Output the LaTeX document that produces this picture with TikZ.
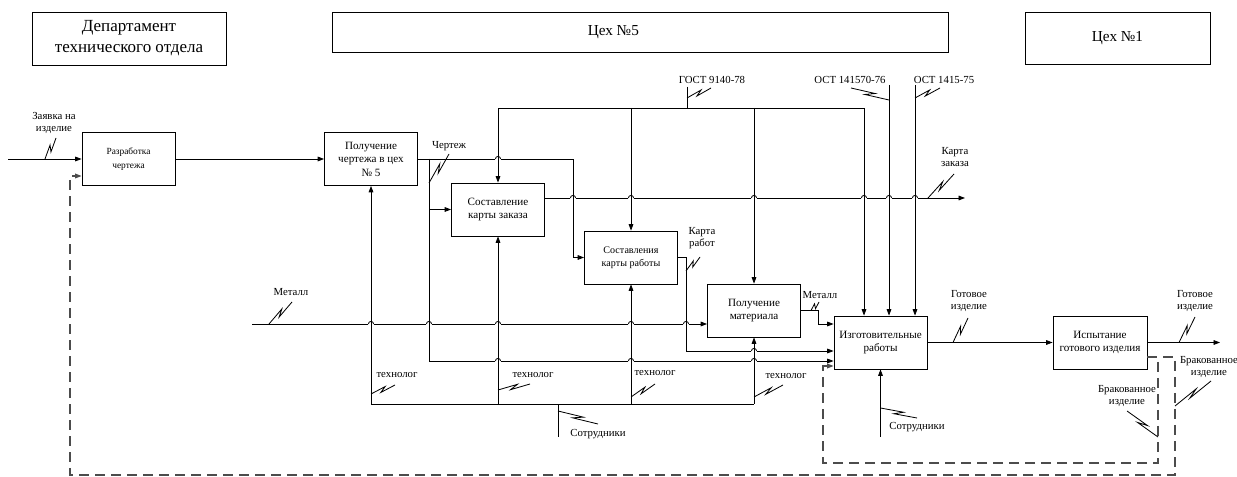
\documentclass[tikz,border=0pt]{standalone}
\usepackage{fontspec}
\setmainfont{Liberation Serif}
\usetikzlibrary{arrows.meta,calc}

\newcommand{\idefsquig}[2]{\draw[ln] (#1) -- ($(#1)!0.62!(#2)!0.6mm!90:(#2)$) -- ($(#1)!0.38!(#2)!0.6mm!-90:(#2)$) -- (#2);}
\newcommand{\linehop}[2]{%
  \draw[white, line width=1.6pt] (#1-2.6,#2) -- (#1+2.6,#2);
  \draw[ln] (#1,#2-3.5) -- (#1,#2+3.5);
  \draw[ln] (#1-2.6,#2) arc[start angle=180, end angle=0, radius=0.78mm];}

\begin{document}
\begin{tikzpicture}[x=0.3mm, y=-0.3mm,
  ln/.style={line width=0.7pt},
  arr/.style={ln, -{Triangle[length=5.5pt,width=4pt]}},
  fb/.style={arr, line width=0.9pt, black!70, dash pattern=on 3mm off 1.8mm},
  box/.style={rectangle, draw, line width=0.7pt, minimum width=27.9mm,
              minimum height=15.9mm, align=center, inner sep=1pt,
              font=\fontsize{9.5}{11.5}\selectfont},
  title/.style={rectangle, draw, line width=0.7pt, align=center,
                font=\fontsize{14.5}{18}\selectfont},
  lbl/.style={align=center, inner sep=0pt, font=\fontsize{9.2}{10.5}\selectfont},
]
\useasboundingbox (0,0) rectangle (1237,477);

% departments
\node[title, minimum width=58.2mm, minimum height=15.9mm] (dept) at (129,38.5) {Департамент\\технического отдела};
\node[title, minimum width=184.8mm, minimum height=12mm, font=\fontsize{13}{16}\selectfont] (shop5) at (640,32) {\hspace*{-16mm}Цех №5};
\node[title, minimum width=55.5mm, minimum height=15.6mm, font=\fontsize{13}{16}\selectfont] (shop1) at (1117.5,38) {Цех №1};

% activities
\node[box, font=\fontsize{8}{11.5}\selectfont] (dev) at (128.5,159) {Разработка\\чертежа};
\node[box] (recv) at (371,159) {Получение\\чертежа в цех\\№ 5};
\node[box] (ord) at (498,209.5) {Составление\\карты заказа};
\node[box, font=\fontsize{8.6}{11.5}\selectfont] (work) at (631,257.5) {Составления\\карты работы};
\node[box] (mat) at (754,310.5) {Получение\\материала};
\node[box] (make) at (880.5,342.5) {Изготовительные\\работы};
\node[box, minimum width=28.2mm] (test) at (1100,342.5) {Испытание\\готового изделия};

\coordinate (inZ) at (8,159);
\coordinate (inM) at (252,324);
\coordinate (gost) at (687,87);
\coordinate (ost1) at (889,85);
\coordinate (ost2) at (915,85);
\coordinate (outOrd) at (965,198);
\coordinate (outG) at (1220,342.5);
\coordinate (sot1) at (558,437);
\coordinate (sot2) at (880.5,437);
\coordinate (rej) at (1147,357);

% arrows
\draw[arr] (inZ) -- (dev);
\draw[arr] (dev) -- (recv);
\draw[arr] (recv) -- (573,159) |- (work);
\draw[arr] (429,159) |- (ord);
\draw[arr] (429,159) |- (make.west |- 0,361);
\draw[arr] (gost) |- (ord.north |- 0,108) -- (ord);
\draw[arr] (gost) |- (864,108) -- (make.north -| 864,0);
\draw[arr] (work.north |- 0,108) -- (work);
\draw[arr] (mat.north |- 0,108) -- (mat);
\draw[arr] (ost1) -- (make.north -| ost1);
\draw[arr] (ost2) -- (make.north -| ost2);
\draw[arr] (ord.east |- outOrd) -- (outOrd);
\draw[arr] (work) -- (686,257.5) |- (make.west |- 0,351);
\draw[arr] (inM) -- (inM -| mat.west);
\draw[arr] (mat) -- (818,310.5) |- (make.west |- 0,324);
\draw[ln] (recv.south |- 0,404) -- (mat.south |- 0,404);
\draw[arr] (recv.south |- 0,404) -- (recv);
\draw[arr] (ord.south |- 0,404) -- (ord);
\draw[arr] (work.south |- 0,404) -- (work);
\draw[arr] (mat.south |- 0,404) -- (mat);
\draw[ln] (sot1) -- (sot1 |- 0,404);
\draw[arr] (sot2) -- (sot2 |- make.south);
\draw[arr] (make) -- (test);
\draw[arr] (test) -- (outG);
\draw[fb] (rej) -- (1158,357) -- (1158,463) -- (823,463) |- (make.west |- 0,366);
\draw[fb] (rej) -- (1175,357) -- (1175,475) -- (70,475) |- (dev.west |- 0,176);

% line jumps
\linehop{498}{159}
\linehop{573}{198} \linehop{631}{198} \linehop{754}{198}
\linehop{864}{198} \linehop{889}{198} \linehop{915}{198}
\linehop{371}{324} \linehop{429}{324} \linehop{498}{324}
\linehop{631}{324} \linehop{686}{324}
\linehop{754}{351}
\linehop{498}{361} \linehop{631}{361} \linehop{754}{361}

% labels
\node[lbl] (lZ) at (54,123) {Заявка на\\изделие};
\idefsquig{45,159}{56,138}
\node[lbl] (lCh) at (449,146) {Чертеж};
\idefsquig{429,183}{449,154}
\node[lbl] (lGost) at (712,80) {ГОСТ 9140-78};
\idefsquig{687,98}{711,88}
\node[lbl] (lOst1) at (850,80) {ОСТ 141570-76};
\idefsquig{889,100}{851,88}
\node[lbl] (lOst2) at (944,80) {ОСТ 1415-75};
\idefsquig{915,98}{940,88}
\node[lbl] (lKz) at (955,157) {Карта\\заказа};
\idefsquig{928,198}{954,174}
\node[lbl] (lKr) at (702,238) {Карта\\работ};
\idefsquig{686,271}{700,257}
\node[lbl] (lM1) at (291,292) {Металл};
\idefsquig{269,324}{292,302}
\node[lbl] (lM2) at (820,295) {Металл};
\idefsquig{811,310.5}{819,302}
\node[lbl] (lT1) at (397,375) {технолог};
\idefsquig{371,394}{395,385}
\node[lbl] (lT2) at (533,375) {технолог};
\idefsquig{498,390}{530,384}
\node[lbl] (lT3) at (655,373) {технолог};
\idefsquig{631,397}{655,384}
\node[lbl] (lT4) at (786,376) {технолог};
\idefsquig{754,397}{783,385}
\node[lbl] (lS1) at (598,434) {Сотрудники};
\idefsquig{558,411}{598,424}
\node[lbl] (lS2) at (917,427) {Сотрудники};
\idefsquig{880.5,408}{917,418}
\node[lbl] (lG1) at (969,301) {Готовое\\изделие};
\idefsquig{953,342.5}{968,318}
\node[lbl] (lG2) at (1195,301) {Готовое\\изделие};
\idefsquig{1179,342.5}{1195,317}
\node[lbl] (lB1) at (1127,396) {Бракованное\\изделие};
\idefsquig{1158,437}{1127,411}
\node[lbl] (lB2) at (1209,367) {Бракованное\\изделие};
\idefsquig{1175,406}{1211,381}
\end{tikzpicture}
\end{document}
